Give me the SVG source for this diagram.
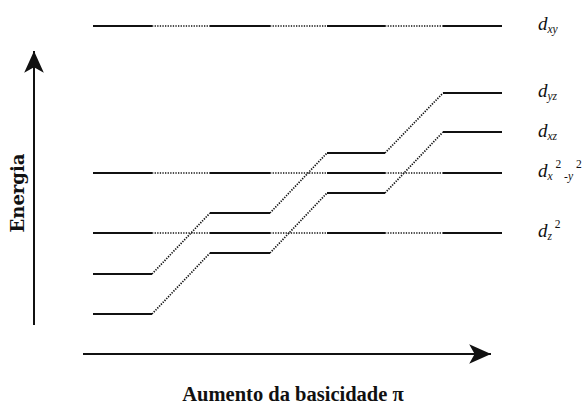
<svg xmlns="http://www.w3.org/2000/svg" width="583" height="407" viewBox="0 0 583 407">
<defs>
<style>
.lvl{stroke:#111;stroke-width:2.2;fill:none}
.dot{stroke:#111;stroke-width:1.7;stroke-dasharray:1.3 1.3;fill:none}
.axis{stroke:#111;stroke-width:2;fill:none}
.lab{font-family:"Liberation Serif","Times New Roman",serif;font-style:italic;font-size:19px;fill:#111}
.sub{font-size:11.5px}
.title{font-family:"Liberation Serif","Times New Roman",serif;font-weight:bold;font-size:20.5px;fill:#111}
.ytitle{font-family:"DejaVu Serif",serif;font-weight:bold;font-size:18px;fill:#111}
</style>
<marker id="ah" markerUnits="userSpaceOnUse" markerWidth="24" markerHeight="24" viewBox="0 0 22 20" refX="20" refY="10" orient="auto">
<path d="M0,1 L20,10 L0,19 L5,10 Z" fill="#111"/>
</marker>
</defs>
<rect width="583" height="407" fill="#fff"/>

<g id="axes">
<line class="axis" x1="34" y1="325" x2="34" y2="51" marker-end="url(#ah)"/>
<line class="axis" x1="83" y1="354" x2="491" y2="354" marker-end="url(#ah)"/>
<text class="ytitle" transform="translate(24,193) rotate(-90)" text-anchor="middle">Energia</text>
<text class="title" x="293" y="401" text-anchor="middle">Aumento da basicidade π</text>
</g>

<g id="level-dxy">
<line class="lvl" x1="93" y1="26" x2="152" y2="26"/>
<line class="lvl" x1="210" y1="26" x2="270" y2="26"/>
<line class="lvl" x1="327" y1="26" x2="385" y2="26"/>
<line class="lvl" x1="443" y1="26" x2="502" y2="26"/>
</g>
<g id="level-dx2y2">
<line class="lvl" x1="93" y1="173" x2="152" y2="173"/>
<line class="lvl" x1="210" y1="173" x2="270" y2="173"/>
<line class="lvl" x1="327" y1="173" x2="385" y2="173"/>
<line class="lvl" x1="443" y1="173" x2="502" y2="173"/>
</g>
<g id="level-dz2">
<line class="lvl" x1="93" y1="233" x2="152" y2="233"/>
<line class="lvl" x1="210" y1="233" x2="270" y2="233"/>
<line class="lvl" x1="327" y1="233" x2="385" y2="233"/>
<line class="lvl" x1="443" y1="233" x2="502" y2="233"/>
</g>
<g id="level-dyz">
<line class="lvl" x1="93" y1="274" x2="152" y2="274"/>
<line class="lvl" x1="210" y1="213" x2="270" y2="213"/>
<line class="lvl" x1="327" y1="153" x2="385" y2="153"/>
<line class="lvl" x1="443" y1="93" x2="502" y2="93"/>
</g>
<g id="level-dxz">
<line class="lvl" x1="93" y1="314" x2="152" y2="314"/>
<line class="lvl" x1="210" y1="253" x2="270" y2="253"/>
<line class="lvl" x1="327" y1="193" x2="385" y2="193"/>
<line class="lvl" x1="443" y1="132" x2="502" y2="132"/>
</g>

<g id="connectors">
<path class="dot" d="M152,26 H210 M270,26 H327 M385,26 H443"/>
<path class="dot" d="M152,173 H210 M270,173 H327 M385,173 H443"/>
<path class="dot" d="M152,233 H210 M270,233 H327 M385,233 H443"/>
<path class="dot" d="M152,274 L210,213 M270,213 L327,153 M385,153 L443,93"/>
<path class="dot" d="M152,314 L210,253 M270,253 L327,193 M385,193 L443,132"/>
</g>

<g id="labels">
<text class="lab" x="538" y="30">d<tspan class="sub" dy="3">xy</tspan></text>
<text class="lab" x="538" y="97">d<tspan class="sub" dy="3">yz</tspan></text>
<text class="lab" x="538" y="137">d<tspan class="sub" dy="3">xz</tspan></text>
<text class="lab" x="538" y="177">d<tspan class="sub" dy="3">x</tspan><tspan class="sub" dy="-12" font-style="normal"> 2</tspan><tspan class="sub" dy="12"> -y</tspan><tspan class="sub" dy="-12" font-style="normal"> 2</tspan></text>
<text class="lab" x="538" y="237">d<tspan class="sub" dy="3">z</tspan><tspan class="sub" dy="-12" font-style="normal"> 2</tspan></text>
</g>
</svg>
